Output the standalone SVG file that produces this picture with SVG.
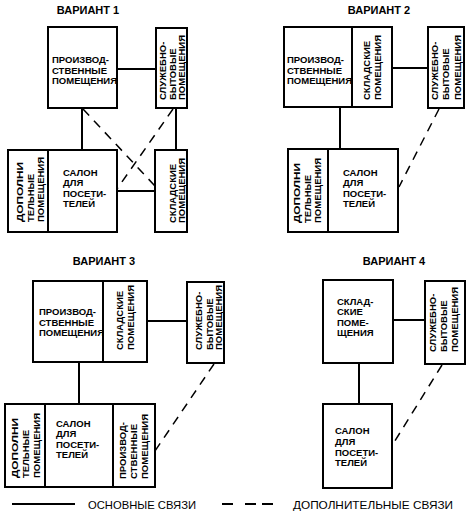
<svg xmlns="http://www.w3.org/2000/svg" width="470" height="513" viewBox="0 0 470 513">
<style>
.box{fill:none;stroke:#000;stroke-width:2}
.ln{stroke:#000;stroke-width:2;fill:none}
.ds{stroke:#000;stroke-width:1.5;fill:none;stroke-dasharray:9 7}
text{font-family:"Liberation Sans",Arial,sans-serif;fill:#000}
.t{font-size:9.5px;font-weight:bold}
.ttl{font-size:11px;font-weight:bold;text-anchor:middle}
.leg{font-size:11px}
</style>
<rect width="470" height="513" fill="#fff"/>

<!-- Variant 1 -->
<g id="v1">
<text class="ttl" x="88" y="14">ВАРИАНТ 1</text>
<g id="v1-prod">
<rect class="box" x="48" y="27" width="69" height="81"/>
<text class="t" x="52" y="63">ПРОИЗВОД-</text>
<text class="t" x="52" y="73.5">СТВЕННЫЕ</text>
<text class="t" x="52" y="84">ПОМЕЩЕНИЯ</text>
</g>
<g id="v1-sluzh">
<rect class="box" x="156" y="28" width="31" height="80"/>
<text class="t" transform="translate(166,100) rotate(-90)">СЛУЖЕБНО-</text>
<text class="t" transform="translate(175.5,100) rotate(-90)">БЫТОВЫЕ</text>
<text class="t" transform="translate(185,100) rotate(-90)">ПОМЕЩЕНИЯ</text>
</g>
<g id="v1-salon">
<rect class="box" x="8" y="150" width="109" height="82"/>
<line class="ln" x1="48" y1="150" x2="48" y2="232"/>
<text class="t" transform="translate(23,222) rotate(-90)" textLength="60" lengthAdjust="spacingAndGlyphs">ДОПОЛНИ</text>
<text class="t" transform="translate(34,222) rotate(-90)">ТЕЛЬНЫЕ</text>
<text class="t" transform="translate(43.5,222) rotate(-90)">ПОМЕЩЕНИЯ</text>
<text class="t" x="63" y="175.5">САЛОН</text>
<text class="t" x="63" y="186">ДЛЯ</text>
<text class="t" x="63" y="196.5">ПОСЕТИ-</text>
<text class="t" x="63" y="207">ТЕЛЕЙ</text>
</g>
<g id="v1-sklad">
<rect class="box" x="155" y="150" width="32" height="82"/>
<text class="t" transform="translate(175.5,223) rotate(-90)">СКЛАДСКИЕ</text>
<text class="t" transform="translate(185,223) rotate(-90)">ПОМЕЩЕНИЯ</text>
</g>
</g>

<!-- Variant 2 -->
<g id="v2">
<text class="ttl" x="379" y="14">ВАРИАНТ 2</text>
<g id="v2-prod">
<rect class="box" x="284" y="27" width="108" height="80"/>
<line class="ln" x1="352" y1="27" x2="352" y2="107"/>
<text class="t" x="287" y="63">ПРОИЗВОД-</text>
<text class="t" x="287" y="73.5">СТВЕННЫЕ</text>
<text class="t" x="287" y="84">ПОМЕЩЕНИЯ</text>
<text class="t" transform="translate(369.5,100) rotate(-90)">СКЛАДСКИЕ</text>
<text class="t" transform="translate(380.5,100) rotate(-90)">ПОМЕЩЕНИЯ</text>
</g>
<g id="v2-sluzh">
<rect class="box" x="428" y="27" width="36" height="81"/>
<text class="t" transform="translate(437.5,100) rotate(-90)">СЛУЖЕБНО-</text>
<text class="t" transform="translate(449,100) rotate(-90)">БЫТОВЫЕ</text>
<text class="t" transform="translate(460.5,100) rotate(-90)">ПОМЕЩЕНИЯ</text>
</g>
<g id="v2-salon">
<rect class="box" x="288" y="149" width="110" height="83"/>
<line class="ln" x1="328" y1="149" x2="328" y2="232"/>
<text class="t" transform="translate(300,223) rotate(-90)" textLength="60" lengthAdjust="spacingAndGlyphs">ДОПОЛНИ</text>
<text class="t" transform="translate(310.5,223) rotate(-90)">ТЕЛЬНЫЕ</text>
<text class="t" transform="translate(320.5,223) rotate(-90)">ПОМЕЩЕНИЯ</text>
<text class="t" x="343" y="175.5">САЛОН</text>
<text class="t" x="343" y="186">ДЛЯ</text>
<text class="t" x="343" y="196.5">ПОСЕТИ-</text>
<text class="t" x="343" y="207">ТЕЛЕЙ</text>
</g>
</g>

<!-- Variant 3 -->
<g id="v3">
<text class="ttl" x="104" y="265">ВАРИАНТ 3</text>
<g id="v3-prod">
<rect class="box" x="33" y="281" width="114" height="81"/>
<line class="ln" x1="103" y1="281" x2="103" y2="362"/>
<text class="t" x="39" y="315">ПРОИЗВОД-</text>
<text class="t" x="39" y="325.5">СТВЕННЫЕ</text>
<text class="t" x="39" y="336">ПОМЕЩЕНИЯ</text>
<text class="t" transform="translate(122.5,350) rotate(-90)">СКЛАДСКИЕ</text>
<text class="t" transform="translate(133.5,350) rotate(-90)">ПОМЕЩЕНИЯ</text>
</g>
<g id="v3-sluzh">
<rect class="box" x="187" y="282" width="37" height="81"/>
<text class="t" transform="translate(202,350) rotate(-90)">СЛУЖЕБНО-</text>
<text class="t" transform="translate(212.5,350) rotate(-90)">БЫТОВЫЕ</text>
<text class="t" transform="translate(222,350) rotate(-90)">ПОМЕЩЕНИЯ</text>
</g>
<g id="v3-salon">
<rect class="box" x="5" y="404" width="150" height="83"/>
<line class="ln" x1="45" y1="404" x2="45" y2="487"/>
<line class="ln" x1="113" y1="404" x2="113" y2="487"/>
<text class="t" transform="translate(18,478) rotate(-90)" textLength="60" lengthAdjust="spacingAndGlyphs">ДОПОЛНИ</text>
<text class="t" transform="translate(29,478) rotate(-90)">ТЕЛЬНЫЕ</text>
<text class="t" transform="translate(39.5,478) rotate(-90)">ПОМЕЩЕНИЯ</text>
<text class="t" x="56" y="426.5">САЛОН</text>
<text class="t" x="56" y="437">ДЛЯ</text>
<text class="t" x="56" y="447.5">ПОСЕТИ-</text>
<text class="t" x="56" y="458">ТЕЛЕЙ</text>
<text class="t" transform="translate(125.5,479) rotate(-90)">ПРОИЗВОД-</text>
<text class="t" transform="translate(136.5,479) rotate(-90)">СТВЕННЫЕ</text>
<text class="t" transform="translate(148,479) rotate(-90)">ПОМЕЩЕНИЯ</text>
</g>
</g>

<!-- Variant 4 -->
<g id="v4">
<text class="ttl" x="394" y="265">ВАРИАНТ 4</text>
<g id="v4-sklad">
<rect class="box" x="323" y="280" width="70" height="83"/>
<text class="t" x="337" y="304.5">СКЛАД-</text>
<text class="t" x="337" y="315">СКИЕ</text>
<text class="t" x="337" y="325.5">ПОМЕ-</text>
<text class="t" x="337" y="336">ЩЕНИЯ</text>
</g>
<g id="v4-sluzh">
<rect class="box" x="425" y="281" width="40" height="83"/>
<text class="t" transform="translate(435.5,352) rotate(-90)">СЛУЖЕБНО-</text>
<text class="t" transform="translate(446.5,352) rotate(-90)">БЫТОВЫЕ</text>
<text class="t" transform="translate(458,352) rotate(-90)">ПОМЕЩЕНИЯ</text>
</g>
<g id="v4-salon">
<rect class="box" x="323" y="404" width="69" height="84"/>
<text class="t" x="335" y="433.5">САЛОН</text>
<text class="t" x="335" y="444.5">ДЛЯ</text>
<text class="t" x="335" y="455.5">ПОСЕТИ-</text>
<text class="t" x="335" y="466">ТЕЛЕЙ</text>
</g>
</g>

<!-- Connectors -->
<g id="connectors">
<line class="ln" x1="117" y1="69" x2="156" y2="69"/>
<line class="ln" x1="82" y1="108" x2="82" y2="150"/>
<line class="ln" x1="176" y1="108" x2="176" y2="150"/>
<line class="ln" x1="117" y1="191" x2="155" y2="191"/>
<line class="ds" x1="83" y1="109" x2="155" y2="186"/>
<line class="ds" x1="173" y1="109" x2="117" y2="189"/>

<line class="ln" x1="392" y1="68" x2="428" y2="68"/>
<line class="ln" x1="340" y1="107" x2="340" y2="149"/>
<line class="ds" x1="439" y1="109" x2="399" y2="187"/>

<line class="ln" x1="147" y1="321" x2="187" y2="321"/>
<line class="ln" x1="79" y1="362" x2="79" y2="404"/>
<line class="ds" x1="214" y1="364" x2="155" y2="451"/>

<line class="ln" x1="393" y1="320" x2="425" y2="320"/>
<line class="ln" x1="359" y1="363" x2="359" y2="404"/>
<line class="ds" x1="442" y1="365" x2="393" y2="444"/>
</g>

<!-- Legend -->
<g id="legend">
<line class="ln" x1="12" y1="504" x2="75" y2="504"/>
<text class="leg" x="88" y="508.5" textLength="108" lengthAdjust="spacingAndGlyphs">ОСНОВНЫЕ СВЯЗИ</text>
<path class="ln" d="M222 504h11M245 504h11M262 504h11"/>
<text class="leg" x="293" y="508.5" textLength="160" lengthAdjust="spacingAndGlyphs">ДОПОЛНИТЕЛЬНЫЕ СВЯЗИ</text>
</g>
</svg>
